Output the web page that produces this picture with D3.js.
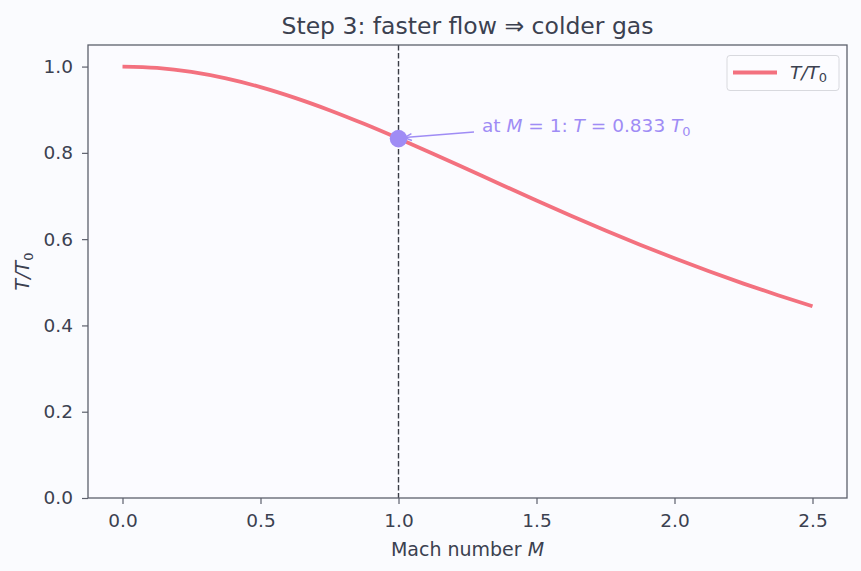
<!DOCTYPE html>
<html><head><meta charset="utf-8">
<script src="https://cdn.jsdelivr.net/npm/d3@7"></script>
<style>
body{margin:0;background:#fafbfe;}
svg{display:block;font-family:"DejaVu Sans",sans-serif;}
</style></head>
<body><svg id="c" width="861" height="571"></svg>
<script>
const machValues = [0, 0.125, 0.25, 0.375, 0.5, 0.625, 0.75, 0.875, 1.0, 1.125, 1.25, 1.375, 1.5, 1.625, 1.75, 1.875, 2.0, 2.125, 2.25, 2.375, 2.5];
const tempRatio = [1.0, 0.9969, 0.9877, 0.9726, 0.9524, 0.9275, 0.8989, 0.8672, 0.8333, 0.7980, 0.7619, 0.7256, 0.6897, 0.6544, 0.6202, 0.5872, 0.5556, 0.5255, 0.4969, 0.4699, 0.4444];
const xTicks = [0, 0.5, 1.0, 1.5, 2.0, 2.5];
const yTicks = [0, 0.2, 0.4, 0.6, 0.8, 1.0];
const markM = 1.0, markT = 0.833;

const svg = d3.select("#c");
const L = 88, R = 847, T = 45, B = 498;
const x = d3.scaleLinear().domain([-0.125, 2.625]).range([L, R]);
const y = d3.scaleLinear().domain([0, 1.05]).range([B, T]);
const ink = "#3b4150", spine = "#5c606c";

svg.append("rect").attr("width",861).attr("height",571).attr("fill","#fafbfe");
svg.append("rect").attr("x",L).attr("y",T).attr("width",R-L).attr("height",B-T).attr("fill","#fbfbff");

// vertical dashed line
svg.append("line").attr("x1",x(1)).attr("x2",x(1)).attr("y1",T).attr("y2",B)
  .attr("stroke","#3a3d46").attr("stroke-width",1.4).attr("stroke-dasharray","5.5,2.5");

// curve
const data = machValues.map((m,i)=>[m,tempRatio[i]]);
svg.append("path").datum(data).attr("fill","none").attr("stroke","#f3717f").attr("stroke-width",3.8)
  .attr("d", d3.line().x(d=>x(d[0])).y(d=>y(d[1])).curve(d3.curveMonotoneX));

// axes
const xa = svg.append("g").attr("transform",`translate(0,${B})`).call(d3.axisBottom(x).tickValues(xTicks).tickFormat(d3.format(".1f")).tickSize(6).tickPadding(10));
const ya = svg.append("g").attr("transform",`translate(${L},0)`).call(d3.axisLeft(y).tickValues(yTicks).tickFormat(d3.format(".1f")).tickSize(6).tickPadding(9));
[xa,ya].forEach(a=>{
  a.attr("font-size",null).attr("font-family",null);
  a.select(".domain").remove();
  a.selectAll(".tick line").attr("stroke",spine).attr("stroke-width",1.2);
  a.selectAll(".tick text").attr("fill",ink).style("font-size","18.5px").style("font-family","DejaVu Sans");
});
// spines
svg.append("rect").attr("x",L).attr("y",T).attr("width",R-L).attr("height",B-T)
  .attr("fill","none").attr("stroke",spine).attr("stroke-width",1.3);

// marker
svg.append("circle").attr("cx",x(markM)).attr("cy",y(markT)).attr("r",8.8).attr("fill","#9f8cf5");

// annotation arrow
const ax0 = 474, ay0 = 132, ax1 = x(markM)+6, ay1 = y(markT)-1;
svg.append("line").attr("x1",ax0).attr("y1",ay0).attr("x2",ax1).attr("y2",ay1)
  .attr("stroke","#9f8cf5").attr("stroke-width",1.5);
const ang = Math.atan2(ay1-ay0, ax1-ax0);
const hl = 8, hw = 0.45;
svg.append("path").attr("fill","none").attr("stroke","#9f8cf5").attr("stroke-width",1.5)
  .attr("d",`M${ax1-hl*Math.cos(ang-hw)},${ay1-hl*Math.sin(ang-hw)}L${ax1},${ay1}L${ax1-hl*Math.cos(ang+hw)},${ay1-hl*Math.sin(ang+hw)}`);
const ann = svg.append("text").attr("x",482).attr("y",132).attr("fill","#9f8cf5").style("font-size","18.5px");
ann.append("tspan").text("at ");
ann.append("tspan").attr("font-style","italic").text("M");
ann.append("tspan").text(" = 1: ");
ann.append("tspan").attr("font-style","italic").text("T");
ann.append("tspan").text(" = 0.833 ");
ann.append("tspan").attr("font-style","italic").text("T");
ann.append("tspan").style("font-size","13px").attr("dy",4).text("0");

// title
svg.append("text").attr("x",(L+R)/2).attr("y",34).attr("text-anchor","middle").attr("fill",ink)
  .style("font-size","23.5px").text("Step 3: faster flow \u21D2 colder gas");

// x label
const xl = svg.append("text").attr("x",(L+R)/2).attr("y",556).attr("text-anchor","middle").attr("fill",ink).style("font-size","19px");
xl.append("tspan").text("Mach number ");
xl.append("tspan").attr("font-style","italic").text("M");

// y label
const yl = svg.append("text").attr("transform",`translate(29,${(T+B)/2}) rotate(-90)`).attr("text-anchor","middle").attr("fill",ink).style("font-size","19px");
yl.append("tspan").attr("font-style","italic").text("T/T");
yl.append("tspan").style("font-size","13px").attr("dy",3.5).text("0");

// legend
svg.append("rect").attr("x",727).attr("y",55.5).attr("width",112).attr("height",35).attr("rx",3)
  .attr("fill","#fcfcff").attr("stroke","#d8d9de").attr("stroke-width",1);
svg.append("line").attr("x1",733).attr("x2",777).attr("y1",72.5).attr("y2",72.5).attr("stroke","#f3717f").attr("stroke-width",3.8);
const lt = svg.append("text").attr("x",790).attr("y",78.5).attr("fill",ink).style("font-size","18.5px");
lt.append("tspan").attr("font-style","italic").text("T/T");
lt.append("tspan").style("font-size","13px").attr("dy",3.5).text("0");
</script></body></html>
